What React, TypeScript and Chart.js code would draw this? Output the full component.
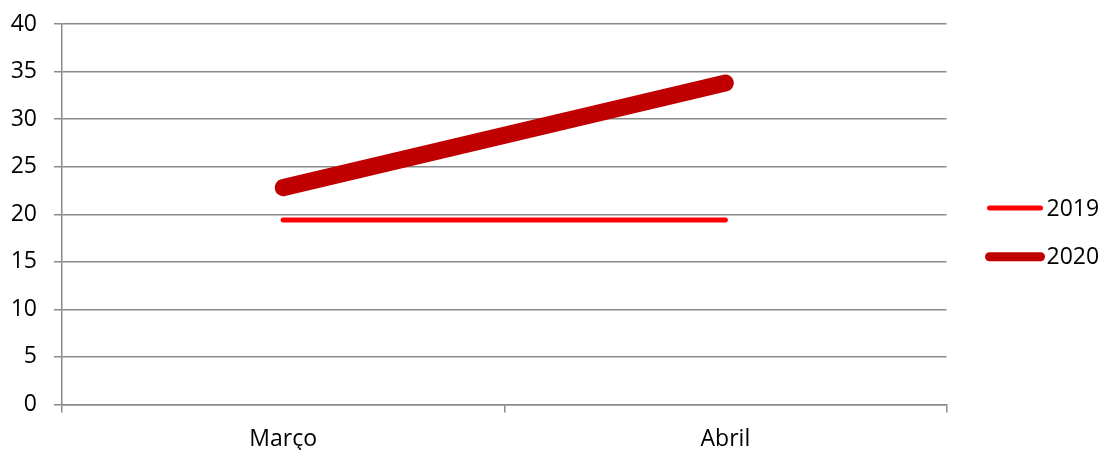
import React, { useEffect, useRef } from "react";
import { Chart, registerables } from "chart.js";

Chart.register(...registerables);

const categories = ["Março", "Abril"];
const seriesNames = ["2019", "2020"];
const values2019 = [19.4, 19.4];
const values2020 = [22.8, 33.8];
const yTicks = [0, 5, 10, 15, 20, 25, 30, 35, 40];

const FONT = "'Open Sans', 'Noto Sans', sans-serif";
const FONT_SIZE = 23;
const GRID = "#8a8a8a";

const legendPlugin = {
  id: "customLegend",
  afterDraw(chart: any) {
    const ctx = chart.ctx;
    const area = chart.chartArea;
    const x0 = area.right + 43;
    const len = 51;
    const gap = 48.7;
    ctx.save();
    chart.data.datasets.forEach((ds: any, i: number) => {
      const y = area.top + 184 + i * gap;
      ctx.beginPath();
      ctx.strokeStyle = ds.borderColor;
      ctx.lineWidth = Math.min(ds.borderWidth, 9);
      ctx.lineCap = "round";
      ctx.moveTo(x0, y);
      ctx.lineTo(x0 + len, y);
      ctx.stroke();
      ctx.fillStyle = "#000";
      ctx.font = `${FONT_SIZE}px ${FONT}`;
      ctx.textBaseline = "middle";
      ctx.textAlign = "left";
      ctx.fillText(ds.label, x0 + len + 6, y + 1);
    });
    ctx.restore();
  },
};

export default function App() {
  const ref = useRef<HTMLCanvasElement | null>(null);
  useEffect(() => {
    if (!ref.current) return;
    const chart = new Chart(ref.current, {
      type: "line",
      data: {
        labels: categories,
        datasets: [
          {
            label: seriesNames[0],
            data: values2019,
            borderColor: "#ff0000",
            backgroundColor: "#ff0000",
            borderWidth: 5,
            borderCapStyle: "round",
            pointRadius: 0,
            pointHoverRadius: 0,
            tension: 0,
            fill: false,
          },
          {
            label: seriesNames[1],
            data: values2020,
            borderColor: "#c00000",
            backgroundColor: "#c00000",
            borderWidth: 17,
            borderCapStyle: "round",
            pointRadius: 0,
            pointHoverRadius: 0,
            tension: 0,
            fill: false,
          },
        ],
      },
      options: {
        animation: false,
        responsive: true,
        maintainAspectRatio: false,
        layout: { padding: { left: 0, top: 24, right: 153.5, bottom: 0 } },
        plugins: {
          legend: { display: false },
          tooltip: { enabled: false },
        },
        scales: {
          x: {
            type: "category",
            offset: true,
            grid: {
              offset: true,
              drawOnChartArea: false,
              drawTicks: true,
              tickLength: 8,
              color: GRID,
              lineWidth: 1.5,
            },
            border: { display: true, color: GRID, width: 1.5 },
            ticks: {
              color: "#000",
              font: { family: FONT, size: FONT_SIZE },
              padding: 13,
              maxRotation: 0,
            },
            afterFit(scale: any) {
              scale.height = 45.5;
              scale.paddingLeft = 0;
              scale.paddingRight = 0;
            },
          },
          y: {
            min: 0,
            max: 40,
            afterBuildTicks(scale: any) {
              scale.ticks = yTicks.map((v) => ({ value: v }));
            },
            grid: {
              color: GRID,
              lineWidth: 1.5,
              tickLength: 8,
              drawTicks: true,
            },
            border: { display: true, color: GRID, width: 1.5 },
            ticks: {
              color: "#000",
              font: { family: FONT, size: FONT_SIZE },
              padding: 17,
            },
            afterFit(scale: any) {
              scale.width = 62;
              scale.paddingTop = 0;
              scale.paddingBottom = 0;
            },
          },
        },
      },
      plugins: [legendPlugin],
    });
    return () => chart.destroy();
  }, []);
  return (
    <div style={{ position: "fixed", left: 0, top: 0, width: 1100, height: 450, background: "#fff" }}>
      <canvas ref={ref} />
    </div>
  );
}
